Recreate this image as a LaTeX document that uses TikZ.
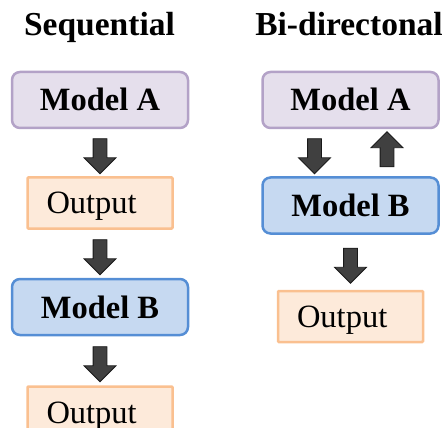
\documentclass[tikz,border=0pt]{standalone}
\usepackage{fontspec}
\setmainfont{Liberation Serif}
\usetikzlibrary{positioning,shapes.arrows}

\definecolor{lavfill}{HTML}{E5DFEC}
\definecolor{lavline}{HTML}{B3A2C7}
\definecolor{bluefill}{HTML}{C6D9F1}
\definecolor{blueline}{HTML}{558ED5}
\definecolor{peachfill}{HTML}{FDEADA}
\definecolor{peachline}{HTML}{FAC090}
\definecolor{arrowgray}{HTML}{404040}

\tikzset{
  title/.style={font=\fontsize{33.5}{38}\selectfont\bfseries, anchor=base},
  modelbox/.style={rounded corners=8pt, line width=2.5pt, minimum width=176pt,
    minimum height=56pt, text height=22pt, text depth=0pt,
    font=\fontsize{32.5}{36}\selectfont\bfseries},
  modela/.style={modelbox, draw=lavline, fill=lavfill},
  modelb/.style={modelbox, draw=blueline, fill=bluefill},
  outbox/.style={draw=peachline, fill=peachfill, line width=2.5pt, rounded corners=1pt,
    text width=107pt, inner xsep=19pt, align=left, minimum height=51pt,
    text height=22pt, text depth=0pt, font=\fontsize{32.5}{36}\selectfont},
  bigarrow/.style={single arrow, draw=black!90, line width=0.8pt, fill=arrowgray,
    minimum height=35pt, single arrow head extend=9pt,
    inner xsep=0pt, inner ysep=6.5pt},
}

\begin{document}
\begin{tikzpicture}[x=1pt,y=1pt]
    \useasboundingbox (0,0) rectangle (448,-428);

    % sequential
    \node[title] (seqtitle) at (99.5,-36) {Sequential};
    \node[modela] (maL) at (100,-100) {Model A};
    \node[outbox, below=47pt of maL] (outL1) {Output};
    \node[modelb, below=48pt of outL1] (mbL) {Model B};
    \node[outbox, below=49pt of mbL] (outL2) {Output};

    \path (maL.south) -- (outL1.north) node[midway, bigarrow, rotate=-90] (arL1) {};
    \path (outL1.south) -- (mbL.north) node[midway, bigarrow, rotate=-90] (arL2) {};
    \path (mbL.south) -- (outL2.north) node[midway, bigarrow, rotate=-90] (arL3) {};

    % bi-directional
    \node[title] (bititle) at (349,-36) {Bi-directonal};
    \node[modela] (maR) at (350.5,-100) {Model A};
    \node[modelb, below=47pt of maR] (mbR) {Model B};
    \node[outbox, below=55pt of mbR] (outR) {Output};

    \path ([xshift=-36pt]maR.south) -- ([xshift=-36pt]mbR.north)
        node[midway, bigarrow, rotate=-90] (arR1) {};
    \path ([xshift=36.5pt]mbR.north) -- ([xshift=36.5pt]maR.south)
        node[midway, bigarrow, rotate=90] (arR2) {};
    \path (mbR.south) -- (outR.north) node[midway, bigarrow, rotate=-90] (arR3) {};
\end{tikzpicture}
\end{document}
